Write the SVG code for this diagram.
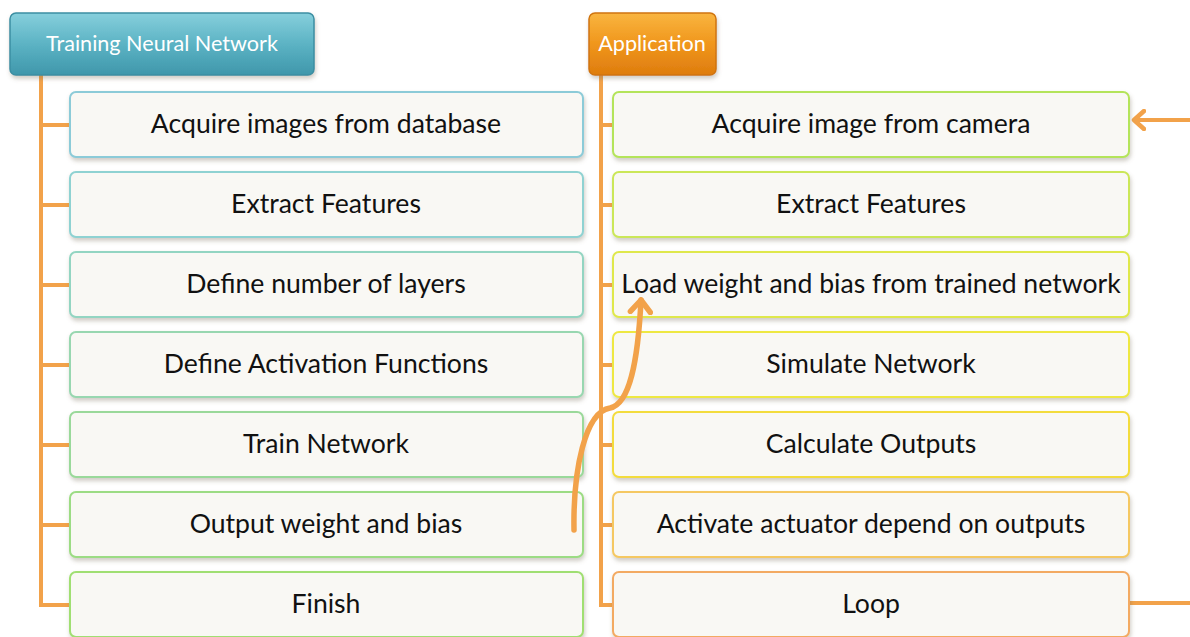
<svg xmlns="http://www.w3.org/2000/svg" width="1190" height="637" viewBox="0 0 1190 637">
<defs>
<linearGradient id="gTeal" x1="0" y1="0" x2="0" y2="1">
<stop offset="0" stop-color="#86cfdc"/><stop offset="0.5" stop-color="#5cb3c4"/><stop offset="1" stop-color="#3f97ab"/>
</linearGradient>
<linearGradient id="gOrange" x1="0" y1="0" x2="0" y2="1">
<stop offset="0" stop-color="#f9b540"/><stop offset="0.5" stop-color="#f0961c"/><stop offset="1" stop-color="#de7c0e"/>
</linearGradient>
<filter id="sh" x="-5%" y="-10%" width="112%" height="130%">
<feDropShadow dx="1" dy="3" stdDeviation="2" flood-color="#7a705a" flood-opacity="0.35"/>
</filter>
<marker id="arr" markerWidth="16" markerHeight="22" refX="12" refY="11" orient="auto" markerUnits="userSpaceOnUse" viewBox="0 0 16 22">
<path d="M2,2 L12,11 L2,20" fill="none" stroke="#f2a24a" stroke-width="4.5" stroke-linecap="round" stroke-linejoin="round"/>
</marker>
<marker id="arrBig" markerWidth="20" markerHeight="26" refX="15" refY="13" orient="auto" markerUnits="userSpaceOnUse" viewBox="0 0 20 26">
<path d="M3,3 L15,13 L3,23" fill="none" stroke="#f2a24a" stroke-width="5.5" stroke-linecap="round" stroke-linejoin="round"/>
</marker>
</defs>
<style>
.box{fill:#f9f8f4;stroke-width:2;filter:url(#sh)}
.t{font-family:Lato,"Open Sans",sans-serif;font-size:26.6px;fill:#111;text-anchor:middle}
.h{font-family:Lato,"Open Sans",sans-serif;font-size:21.6px;fill:#fff;text-anchor:middle}
.ln{fill:none;stroke:#f2a24a;stroke-width:4;stroke-linecap:butt}
</style>
<rect width="1190" height="637" fill="#ffffff"/>

<g id="connectors">
<path class="ln" d="M41,74 V605 H71"/>
<path class="ln" d="M41,125 H71 M41,205 H71 M41,285 H71 M41,365 H71 M41,445 H71 M41,525 H71"/>
<path class="ln" d="M601,74 V605 H614"/>
<path class="ln" d="M601,125 H614 M601,205 H614 M601,285 H614 M601,365 H614 M601,445 H614 M601,525 H614"/>
<path d="M1124,603 H1200 V120 H1134" fill="none" stroke="#f2a24a" stroke-width="4" marker-end="url(#arr)"/>
</g>

<g id="hdr-training">
<rect x="10" y="13" width="304" height="62" rx="6" fill="url(#gTeal)" stroke="#3b8ea2" stroke-width="1.5" filter="url(#sh)"/>
<text class="h" x="162" y="51">Training Neural Network</text>
</g>
<g id="hdr-application">
<rect x="589" y="13" width="127" height="62" rx="6" fill="url(#gOrange)" stroke="#d07410" stroke-width="1.5" filter="url(#sh)"/>
<text class="h" x="652" y="51">Application</text>
</g>

<g id="l1"><rect class="box" x="70" y="92" width="513" height="65" rx="6" stroke="#8ccbd8"/><text class="t" x="326" y="133">Acquire images from database</text></g>
<g id="l2"><rect class="box" x="70" y="172" width="513" height="65" rx="6" stroke="#8fd2d2"/><text class="t" x="326" y="213">Extract Features</text></g>
<g id="l3"><rect class="box" x="70" y="252" width="513" height="65" rx="6" stroke="#93d5c2"/><text class="t" x="326" y="293">Define number of layers</text></g>
<g id="l4"><rect class="box" x="70" y="332" width="513" height="65" rx="6" stroke="#98d7b0"/><text class="t" x="326" y="373">Define Activation Functions</text></g>
<g id="l5"><rect class="box" x="70" y="412" width="513" height="65" rx="6" stroke="#9ad99a"/><text class="t" x="326" y="453">Train Network</text></g>
<g id="l6"><rect class="box" x="70" y="492" width="513" height="65" rx="6" stroke="#9cdc84"/><text class="t" x="326" y="533">Output weight and bias</text></g>
<g id="l7"><rect class="box" x="70" y="572" width="513" height="65" rx="6" stroke="#a0df72"/><text class="t" x="326" y="613">Finish</text></g>

<g id="r1"><rect class="box" x="613" y="92" width="516" height="65" rx="6" stroke="#b4e45a"/><text class="t" x="871" y="133">Acquire image from camera</text></g>
<g id="r2"><rect class="box" x="613" y="172" width="516" height="65" rx="6" stroke="#cbe758"/><text class="t" x="871" y="213">Extract Features</text></g>
<g id="r3"><rect class="box" x="613" y="252" width="516" height="65" rx="6" stroke="#dfe84c"/><text class="t" x="871" y="293">Load weight and bias from trained network</text></g>
<g id="r4"><rect class="box" x="613" y="332" width="516" height="65" rx="6" stroke="#eee842"/><text class="t" x="871" y="373">Simulate Network</text></g>
<g id="r5"><rect class="box" x="613" y="412" width="516" height="65" rx="6" stroke="#f3dc3e"/><text class="t" x="871" y="453">Calculate Outputs</text></g>
<g id="r6"><rect class="box" x="613" y="492" width="516" height="65" rx="6" stroke="#f5c862"/><text class="t" x="871" y="533">Activate actuator depend on outputs</text></g>
<g id="r7"><rect class="box" x="613" y="572" width="516" height="65" rx="6" stroke="#f3aa62"/><text class="t" x="871" y="613">Loop</text></g>

<g id="curve-connector">
<path d="M574,530 C573,470 585,412 610,408 C630,404 638,360 641,300" fill="none" stroke="#f2a24a" stroke-width="5.5" stroke-linecap="round" marker-end="url(#arrBig)"/>
</g>
</svg>
